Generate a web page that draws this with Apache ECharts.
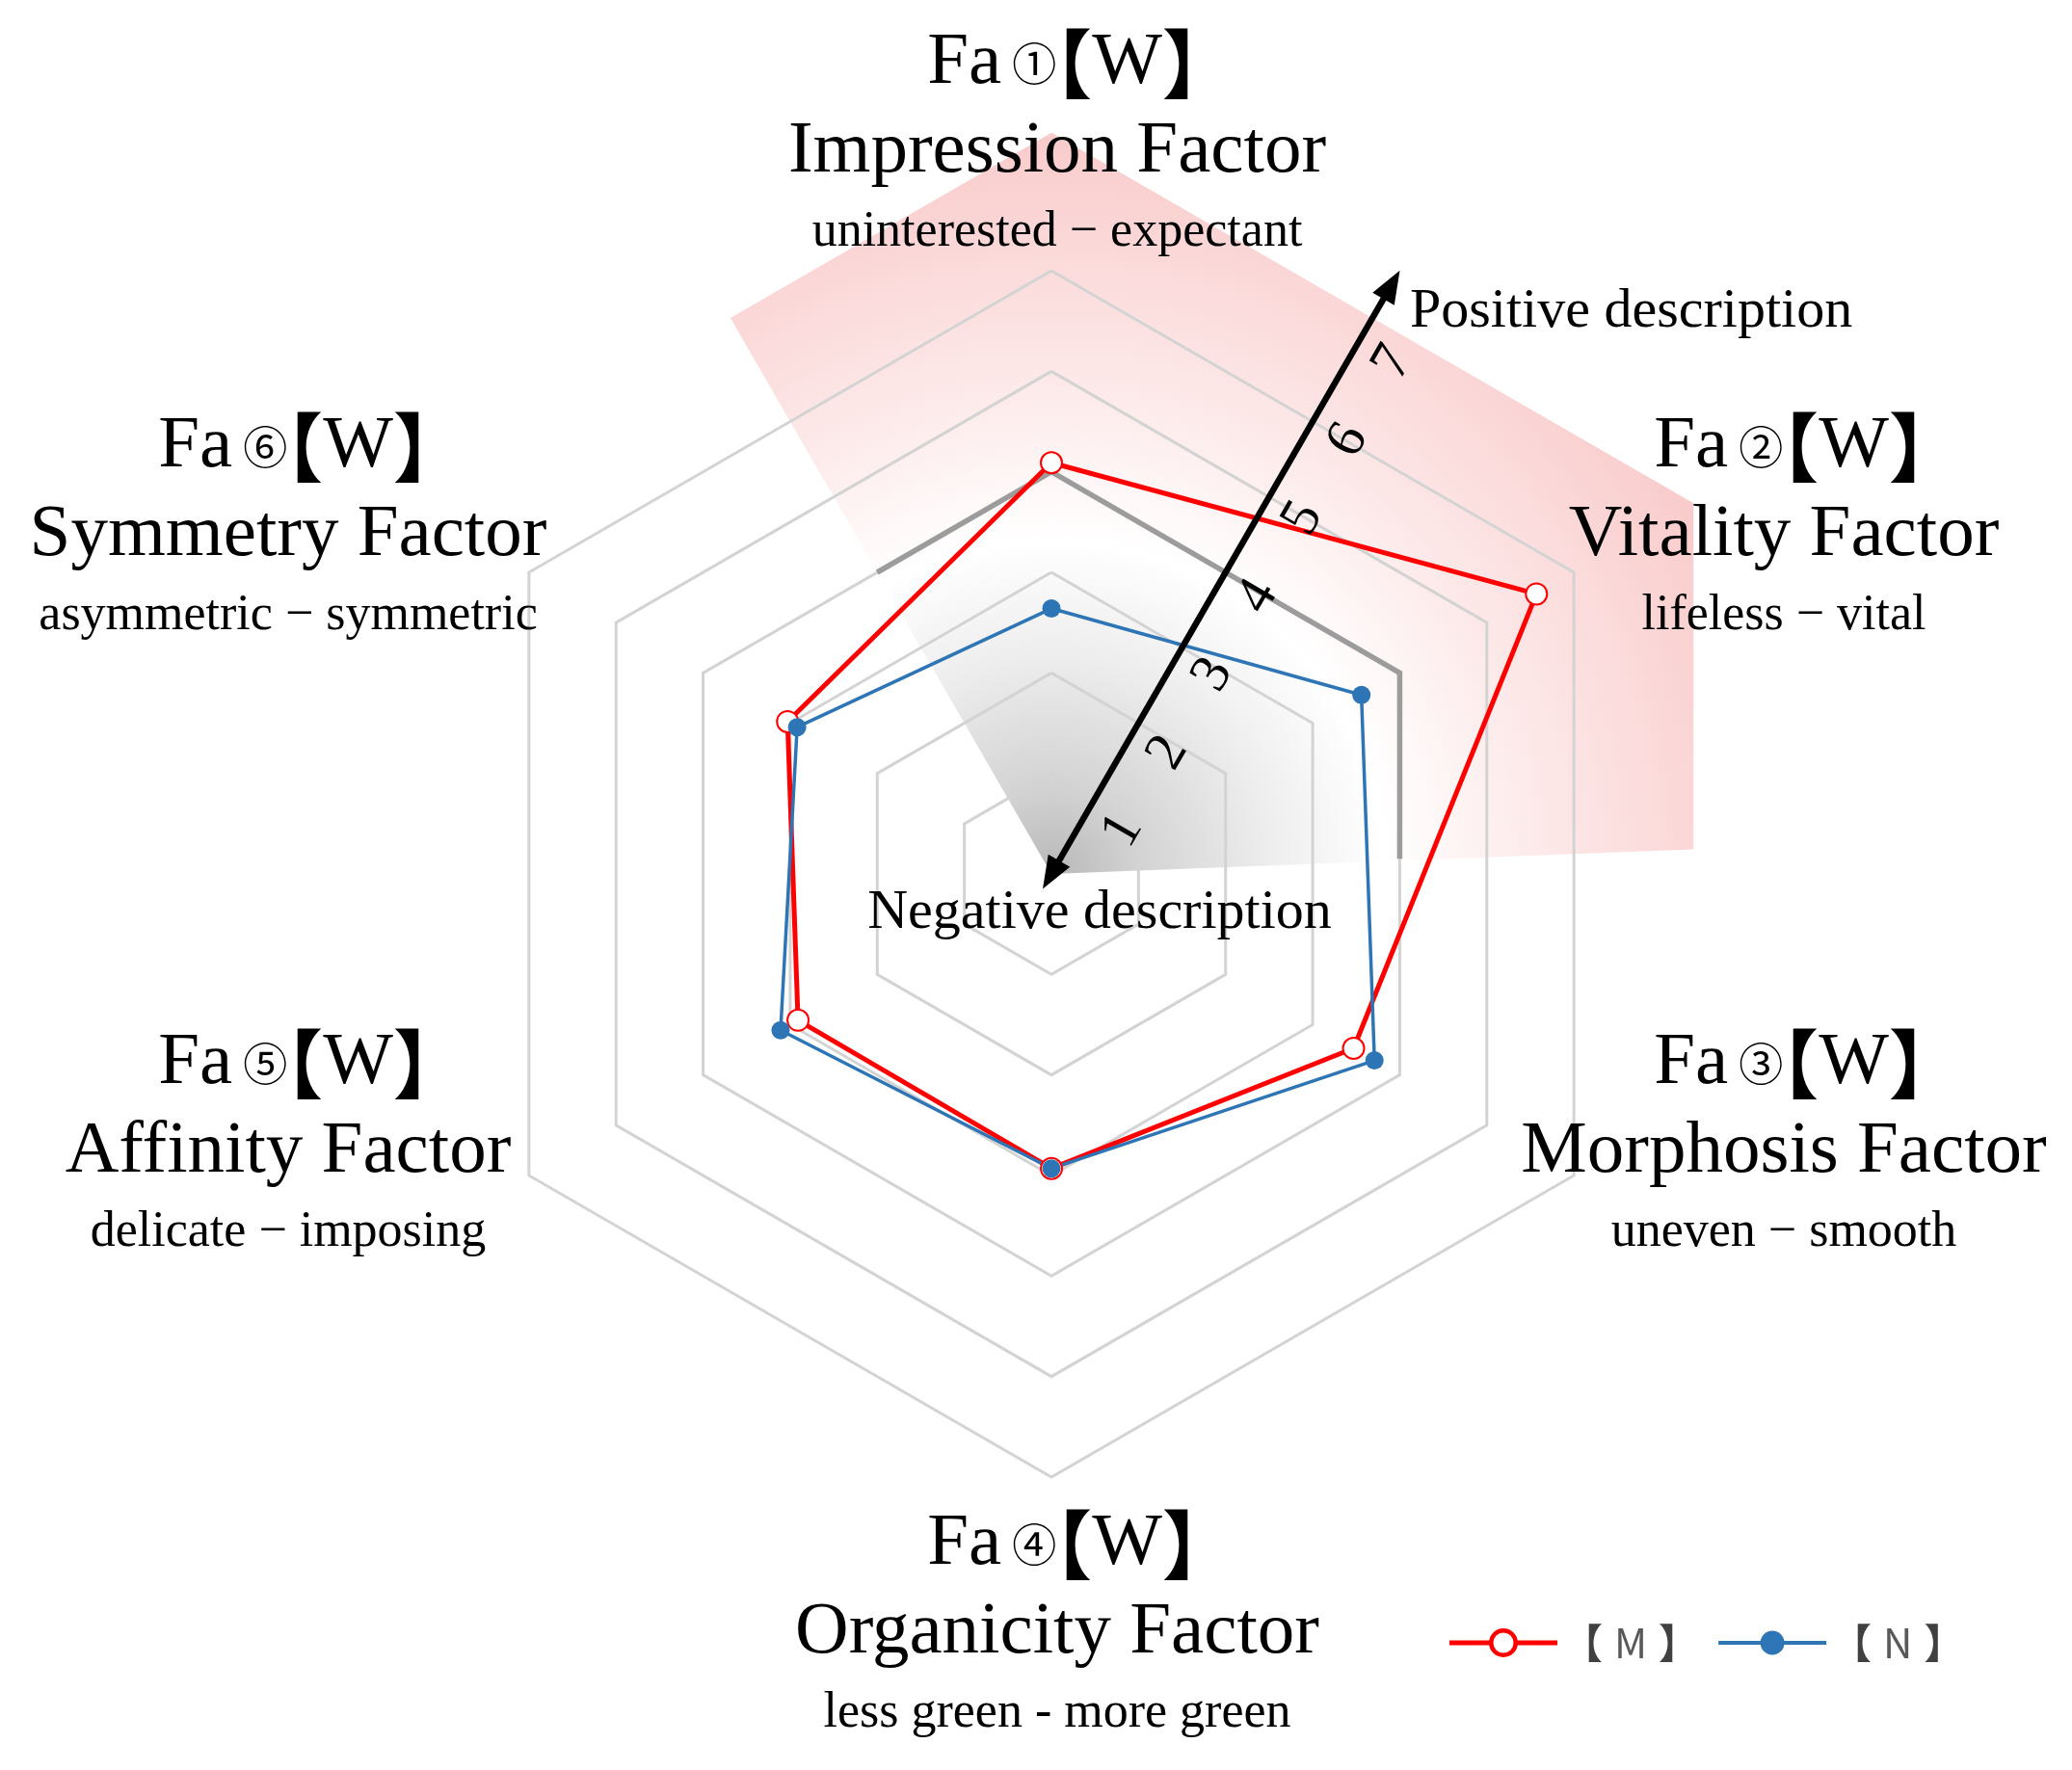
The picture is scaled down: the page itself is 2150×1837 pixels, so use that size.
<!DOCTYPE html>
<html>
<head>
<meta charset="utf-8">
<script src="https://cdn.jsdelivr.net/npm/echarts@6/dist/echarts.min.js"></script>
<style>
html,body{margin:0;padding:0;background:#ffffff;}
#chart{width:2150px;height:1837px;}
</style>
</head>
<body>
<div id="chart"></div>
<script>
// ---------------- data ----------------
const factorNumbers = ['Fa①【W】', 'Fa②【W】', 'Fa③【W】', 'Fa④【W】', 'Fa⑤【W】', 'Fa⑥【W】'];
const factorNames = ['Impression Factor', 'Vitality Factor', 'Morphosis Factor', 'Organicity Factor', 'Affinity Factor', 'Symmetry Factor'];
const factorScales = ['uninterested − expectant', 'lifeless − vital', 'uneven − smooth', 'less green - more green', 'delicate − imposing', 'asymmetric − symmetric'];
const seriesNames = ['【M】', '【N】'];
const valuesM = [5.09, 6.57, 4.47, 3.93, 3.91, 4.03];
const valuesN = [3.64, 4.56, 4.71, 3.93, 4.11, 3.92];
const scaleMin = 1;
const scaleMax = 7;
const arrowTicks = ['1', '2', '3', '4', '5', '6', '7'];
const arrowEndLabels = ['Positive description', 'Negative description'];

// ---------------- layout ----------------
const cx = 1091, cy = 907, R = 626, nRings = 6;
const radarOrder = [0, 5, 4, 3, 2, 1]; // counter-clockwise from top
const labelX = [1097, 1851, 1851, 1097, 299, 299];
const labelY = [158, 556, 1196, 1695, 1196, 556];
const SERIF = '"Liberation Serif", "Times New Roman", serif';
const CJK = '"Noto Sans CJK SC", "Noto Sans CJK JP", sans-serif';

function polar(r, deg) {
  const a = deg * Math.PI / 180;
  return [cx + r * Math.cos(a), cy - r * Math.sin(a)];
}
function hexDist(r, deg) {
  const c = Math.round(deg / 60) * 60;
  return r * Math.cos(Math.PI / 6) / Math.cos((deg - c) * Math.PI / 180);
}
function hexPath(r, a0, a1) {
  const pts = [polar(hexDist(r, a0), a0)];
  for (let v = 90; v >= -30; v -= 60) { if (v < a0 && v > a1) pts.push(polar(r, v)); }
  pts.push(polar(hexDist(r, a1), a1));
  return pts;
}

const graphics = [];

// highlighted wedge (Fa1 / Fa2 sector)
const bigR = R * 1.229;
const wedgePts = hexPath(bigR, 120, 2.2).concat([[cx, cy]]);
graphics.push({
  type: 'polygon', z: -100, silent: true,
  shape: { points: wedgePts },
  style: {
    fill: {
      type: 'radial', x: cx, y: cy, r: bigR, global: true,
      colorStops: [
        { offset: 0, color: '#b8b8b8' },
        { offset: 0.12, color: '#d3d3d3' },
        { offset: 0.3, color: '#eeeeee' },
        { offset: 0.45, color: '#ffffff' },
        { offset: 0.65, color: '#fdeaea' },
        { offset: 0.85, color: '#fbd8d8' },
        { offset: 1, color: '#f9cbcb' }
      ]
    }
  }
});

// darker ring segment (ring of value 5)
const ringStep = R / nRings;
graphics.push({
  type: 'polyline', z: 1, silent: true,
  shape: { points: hexPath(ringStep * 4, 120, 2.5) },
  style: { stroke: '#9c9c9c', lineWidth: 5.5, fill: null }
});

// arrow along 60 degrees
const ux = Math.cos(Math.PI / 3), uy = -Math.sin(Math.PI / 3);
const px = Math.sin(Math.PI / 3), py = Math.cos(Math.PI / 3);
function P(a, p) { return [cx + a * ux + p * px, cy + a * uy + p * py]; }
const arrowTail = -18, arrowHead = 723, headLen = 34, headHalf = 13;
graphics.push({
  type: 'line', z: 20, silent: true,
  shape: { x1: P(arrowTail + headLen - 4, 0)[0], y1: P(arrowTail + headLen - 4, 0)[1],
           x2: P(arrowHead - headLen + 4, 0)[0], y2: P(arrowHead - headLen + 4, 0)[1] },
  style: { stroke: '#000', lineWidth: 6.5 }
});
graphics.push({
  type: 'polygon', z: 20, silent: true,
  shape: { points: [P(arrowHead, 0), P(arrowHead - headLen, headHalf), P(arrowHead - headLen, -headHalf)] },
  style: { fill: '#000' }
});
graphics.push({
  type: 'polygon', z: 20, silent: true,
  shape: { points: [P(arrowTail, 0), P(arrowTail + headLen, headHalf), P(arrowTail + headLen, -headHalf)] },
  style: { fill: '#000' }
});
const tickStart = 76, tickStep = 93.5, tickOffset = 42;
arrowTicks.forEach((t, k) => {
  const p = P(tickStart + tickStep * k, tickOffset);
  graphics.push({
    type: 'text', z: 20, silent: true, x: p[0], y: p[1], rotation: Math.PI / 3,
    style: { text: t, font: '58px ' + SERIF, fill: '#000', align: 'center', verticalAlign: 'middle',
             textAlign: 'center', textVerticalAlign: 'middle' }
  });
});
graphics.push({
  type: 'text', z: 20, silent: true, x: 1463, y: 324,
  style: { text: arrowEndLabels[0], font: '58px ' + SERIF, fill: '#000', align: 'left', verticalAlign: 'middle',
           textAlign: 'left', textVerticalAlign: 'middle' }
});
graphics.push({
  type: 'text', z: 20, silent: true, x: 1141, y: 948,
  style: { text: arrowEndLabels[1], font: '58px ' + SERIF, fill: '#000', align: 'center', verticalAlign: 'middle',
           textAlign: 'center', textVerticalAlign: 'middle' }
});

// factor labels
function richNumber(s) {
  let out = '';
  for (const ch of s) {
    if (/[\u2460-\u24ff]/.test(ch)) out += '{b|' + ch + '}';
    else if (ch === '\u3010') out += '{c|' + ch + '}';
    else if (ch === '\u3011') out += '{d|' + ch + '}';
    else out += '{a|' + ch + '}';
  }
  return out;
}
factorNumbers.forEach((num, i) => {
  const x = labelX[i], y = labelY[i];
  graphics.push({
    type: 'text', z: 20, silent: true, x: x + 6, y: y - 92,
    style: {
      text: richNumber(num), align: 'center', verticalAlign: 'middle', textAlign: 'center', textVerticalAlign: 'middle',
      rich: {
        a: { fontSize: 77, fontFamily: SERIF, fill: '#000', color: '#000' },
        b: { fontSize: 46, fontFamily: CJK, fill: '#000', color: '#000', padding: [0, 13, 0, 11] },
        c: { fontSize: 78, fontFamily: CJK, fontWeight: 'bold', fill: '#000', color: '#000', padding: [0, 0, 0, -54] },
        d: { fontSize: 78, fontFamily: CJK, fontWeight: 'bold', fill: '#000', color: '#000', padding: [0, -40, 0, 0] }
      }
    }
  });
  graphics.push({
    type: 'text', z: 20, silent: true, x: x, y: y,
    style: { text: factorNames[i], font: '77px ' + SERIF, fill: '#000', align: 'center', verticalAlign: 'middle',
             textAlign: 'center', textVerticalAlign: 'middle' }
  });
  graphics.push({
    type: 'text', z: 20, silent: true, x: x, y: y + 83,
    style: { text: factorScales[i], font: '52px ' + SERIF, fill: '#000', align: 'center', verticalAlign: 'middle',
             textAlign: 'center', textVerticalAlign: 'middle' }
  });
});

const iconM = 'path://M0,12.5 H42 V17.5 H0 Z M70,12.5 H112 V17.5 H70 Z M41,15 A15,15 0 1,1 71,15 A15,15 0 1,1 41,15 Z M45.5,15 A10.5,10.5 0 1,0 66.5,15 A10.5,10.5 0 1,0 45.5,15 Z';
const iconN = 'path://M0,13 H112 V17 H0 Z M43.5,15 A12.5,12.5 0 1,1 68.5,15 A12.5,12.5 0 1,1 43.5,15 Z';

const chart = echarts.init(document.getElementById('chart'), null, { renderer: 'canvas' });
chart.setOption({
  backgroundColor: '#ffffff',
  animation: false,
  legend: {
    left: 1499, top: 1679, itemWidth: 112, itemHeight: 30, itemGap: 20,
    data: [{ name: seriesNames[0], icon: iconM }, { name: seriesNames[1], icon: iconN }],
    itemStyle: { borderWidth: 0 },
    formatter: function (name) { return name.replace(/([^\u3010\u3011]+)/, '{m|$1}'); },
    textStyle: {
      fontSize: 42, fontFamily: CJK, color: '#404040', fontWeight: 'bold',
      rich: { m: { fontSize: 42, fontFamily: CJK, color: '#595959', fontWeight: 'normal', padding: [0, 12, 0, 12] } }
    }
  },
  radar: {
    center: [cx, cy], radius: R, startAngle: 90, splitNumber: nRings, shape: 'polygon',
    indicator: radarOrder.map(i => ({ name: factorNames[i], min: scaleMin, max: scaleMax })),
    axisName: { show: false },
    axisLine: { show: false }, axisTick: { show: false }, axisLabel: { show: false },
    splitLine: { lineStyle: { color: '#d3d3d3', width: 3 } },
    splitArea: { show: false }
  },
  graphic: { elements: graphics },
  series: [{
    type: 'radar', z: 5,
    data: [
      { name: seriesNames[0], value: radarOrder.map(i => valuesM[i]), symbol: 'emptyCircle', symbolSize: 22,
        lineStyle: { color: '#ff0000', width: 5 },
        itemStyle: { color: '#ff0000', borderColor: '#ff0000', borderWidth: 4 } },
      { name: seriesNames[1], value: radarOrder.map(i => valuesN[i]), symbol: 'circle', symbolSize: 19,
        lineStyle: { color: '#2e75b6', width: 3.5 },
        itemStyle: { color: '#2e75b6' } }
    ]
  }]
});
</script>
</body>
</html>
